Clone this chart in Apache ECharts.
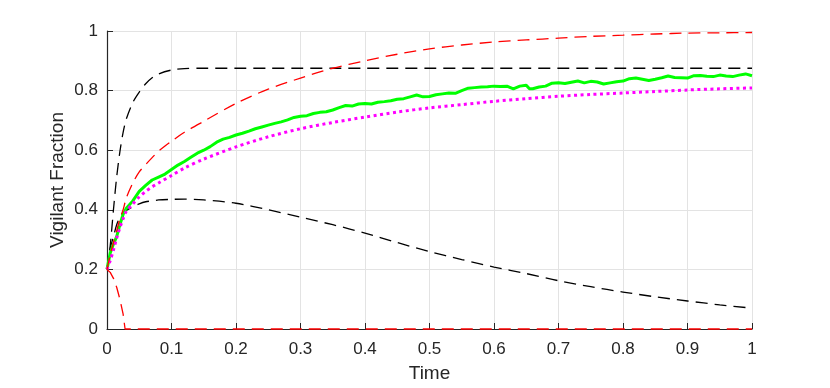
<!DOCTYPE html>
<html>
<head>
<meta charset="utf-8">
<script src="https://cdn.jsdelivr.net/npm/echarts@6/dist/echarts.min.js"></script>
<style>
  html, body { margin: 0; padding: 0; background: #fff; }
  #chart { width: 830px; height: 388px; }
</style>
</head>
<body>
<div id="chart"></div>
<script>
// time points shared by the smooth curves
var tSmooth = [0, 0.005, 0.01, 0.015, 0.02, 0.025, 0.03, 0.04, 0.05, 0.06, 0.07, 0.08, 0.1, 0.12, 0.15,
  0.2, 0.25, 0.3, 0.35, 0.4, 0.45, 0.5, 0.55, 0.6, 0.65, 0.7, 0.75, 0.8, 0.85, 0.9, 0.95, 1.0];

var blackHigh = [0.2, 0.28, 0.4, 0.51, 0.595, 0.66, 0.705, 0.76, 0.795, 0.823, 0.843, 0.856, 0.869, 0.874, 0.875,
  0.875, 0.875, 0.875, 0.875, 0.875, 0.875, 0.875, 0.875, 0.875, 0.875, 0.875, 0.875, 0.875, 0.875, 0.875, 0.875, 0.875];

var blackLow = [0.2, 0.27, 0.31, 0.35, 0.375, 0.39, 0.398, 0.41, 0.42, 0.427, 0.43, 0.433, 0.435, 0.436, 0.433,
  0.422, 0.4, 0.375, 0.35, 0.322, 0.29, 0.26, 0.233, 0.208, 0.186, 0.162, 0.142, 0.124, 0.108, 0.094, 0.081, 0.07];

var redHigh = [0.2, 0.25, 0.29, 0.33, 0.37, 0.4, 0.44, 0.49, 0.527, 0.552, 0.575, 0.597, 0.63, 0.66, 0.697,
  0.757, 0.805, 0.842, 0.875, 0.9, 0.922, 0.94, 0.953, 0.963, 0.97, 0.976, 0.982, 0.986, 0.99, 0.993, 0.994, 0.995];

var magenta = [0.2, 0.23, 0.265, 0.305, 0.34, 0.37, 0.395, 0.42, 0.443, 0.462, 0.477, 0.49, 0.515, 0.54, 0.57,
  0.611, 0.645, 0.672, 0.693, 0.711, 0.728, 0.742, 0.753, 0.764, 0.773, 0.781, 0.787, 0.792, 0.797, 0.802, 0.806, 0.809];

var tRedLow = [0, 0.005, 0.01, 0.015, 0.02, 0.025, 0.028, 0.1, 0.5, 1.0];
var redLow = [0.2, 0.19, 0.17, 0.14, 0.1, 0.05, 0, 0, 0, 0];

// simulated (noisy) run
var tGreen = [0, 0.005, 0.01, 0.015, 0.02, 0.025, 0.03, 0.04, 0.05, 0.06, 0.07, 0.08, 0.09,
  0.1, 0.11, 0.12, 0.13, 0.14, 0.15, 0.16, 0.17, 0.18, 0.19, 0.2, 0.21, 0.22, 0.23, 0.24, 0.25,
  0.26, 0.27, 0.28, 0.29, 0.3, 0.31, 0.32, 0.33, 0.34, 0.35, 0.36, 0.37, 0.38, 0.39, 0.4,
  0.41, 0.42, 0.43, 0.44, 0.45, 0.46, 0.47, 0.48, 0.49, 0.5, 0.51, 0.52, 0.53, 0.54, 0.55,
  0.56, 0.57, 0.58, 0.59, 0.6, 0.61, 0.62, 0.63, 0.64, 0.65, 0.655, 0.66, 0.67, 0.68, 0.69, 0.7,
  0.71, 0.72, 0.73, 0.74, 0.75, 0.76, 0.77, 0.78, 0.79, 0.8, 0.81, 0.82, 0.83, 0.84, 0.85,
  0.86, 0.87, 0.88, 0.89, 0.9, 0.91, 0.92, 0.93, 0.94, 0.95, 0.96, 0.97, 0.98, 0.99, 1.0];
var green = [0.2, 0.255, 0.285, 0.31, 0.35, 0.385, 0.405, 0.43, 0.462, 0.482, 0.5, 0.51, 0.52,
  0.535, 0.55, 0.562, 0.576, 0.59, 0.6, 0.612, 0.627, 0.637, 0.643, 0.651, 0.657, 0.664, 0.672, 0.678, 0.684,
  0.69, 0.695, 0.702, 0.71, 0.714, 0.716, 0.723, 0.727, 0.729, 0.735, 0.743, 0.75, 0.748, 0.755, 0.757,
  0.755, 0.761, 0.763, 0.766, 0.771, 0.773, 0.779, 0.785, 0.779, 0.78, 0.786, 0.789, 0.792, 0.791, 0.8,
  0.808, 0.81, 0.812, 0.813, 0.815, 0.814, 0.815, 0.806, 0.815, 0.818, 0.806, 0.806, 0.812, 0.815, 0.825, 0.826,
  0.824, 0.828, 0.832, 0.826, 0.831, 0.829, 0.822, 0.826, 0.83, 0.832, 0.84, 0.842, 0.838, 0.834, 0.838,
  0.843, 0.849, 0.844, 0.843, 0.842, 0.85, 0.851, 0.848, 0.847, 0.852, 0.849, 0.847, 0.852, 0.856, 0.85];

var xTicks = [0, 0.1, 0.2, 0.3, 0.4, 0.5, 0.6, 0.7, 0.8, 0.9, 1];
var yTicks = [0, 0.2, 0.4, 0.6, 0.8, 1];

function pairs(xs, ys) {
  return xs.map(function (x, i) { return [x, ys[i]]; });
}

function fmt(v) {
  return String(Math.round(v * 10) / 10);
}

var myChart = echarts.init(document.getElementById('chart'));
var font = 'Liberation Sans, Arial, Helvetica, sans-serif';
var dash = [12, 7];

var option = {
  animation: false,
  grid: { left: 107, right: 78, top: 31, bottom: 59 },
  xAxis: {
    type: 'value', min: xTicks[0], max: xTicks[xTicks.length - 1], interval: 0.1,
    name: 'Time', nameLocation: 'middle', nameGap: 35, nameMoveOverlap: false,
    nameTextStyle: { fontFamily: font, fontSize: 19, color: '#262626' },
    axisLine: { onZero: false, lineStyle: { color: '#262626', width: 1.2 } },
    axisTick: { inside: true, length: 6, lineStyle: { color: '#262626' } },
    axisLabel: { fontFamily: font, fontSize: 17, color: '#262626', margin: 12, formatter: fmt },
    splitLine: { show: true, lineStyle: { color: '#e3e3e3', width: 1 } }
  },
  yAxis: {
    type: 'value', min: yTicks[0], max: yTicks[yTicks.length - 1], interval: 0.2,
    name: 'Vigilant Fraction', nameLocation: 'middle', nameGap: 40, nameMoveOverlap: false,
    nameTextStyle: { fontFamily: font, fontSize: 19, color: '#262626' },
    axisLine: { show: true, lineStyle: { color: '#262626', width: 1.2 } },
    axisTick: { show: true, inside: true, length: 6, lineStyle: { color: '#262626' } },
    axisLabel: { fontFamily: font, fontSize: 17, color: '#262626', margin: 9, formatter: fmt },
    splitLine: { show: true, lineStyle: { color: '#e3e3e3', width: 1 } }
  },
  series: [
    {
      type: 'line', data: pairs(tSmooth, blackHigh), showSymbol: false, smooth: 0.3,
      lineStyle: { color: '#000', width: 1.3, type: dash }
    },
    {
      type: 'line', data: pairs(tSmooth, blackLow), showSymbol: false, smooth: 0.3,
      lineStyle: { color: '#000', width: 1.3, type: dash }
    },
    {
      type: 'line', data: pairs(tGreen, green), showSymbol: false,
      lineStyle: { color: '#00ff00', width: 3 }
    },
    {
      type: 'line', data: pairs(tSmooth, magenta), showSymbol: false, smooth: 0.3,
      lineStyle: { color: '#ff00ff', width: 3, type: [3, 3.5], cap: 'butt' }
    },
    {
      type: 'line', data: pairs(tSmooth, redHigh), showSymbol: false, smooth: 0.3,
      lineStyle: { color: '#ff0000', width: 1.3, type: dash }
    },
    {
      type: 'line', data: pairs(tRedLow, redLow), showSymbol: false, clip: false,
      lineStyle: { color: '#ff0000', width: 1.3, type: dash }
    }
  ]
};

myChart.setOption(option);
</script>
</body>
</html>
